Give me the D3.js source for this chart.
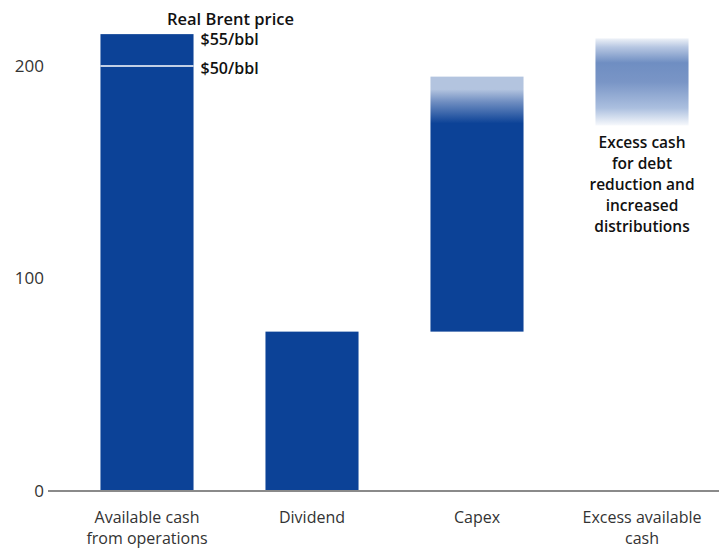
<!DOCTYPE html>
<html>
<head>
<meta charset="utf-8">
<script src="https://cdn.jsdelivr.net/npm/d3@7"></script>
<style>
  body { margin: 0; background: #fff; }
  text { font-family: "Open Sans", sans-serif; }
</style>
</head>
<body>
<div id="chart"></div>
<script>
// chart data
const categories = [["Available cash", "from operations"], ["Dividend"], ["Capex"], ["Excess available", "cash"]]
const barLow = [0, 0, 75, 172]
const barHigh = [215, 75, 195, 213]
const yTicks = [0, 100, 200]
const brentLevels = [215, 200]
const brentLabels = ["$55/bbl", "$50/bbl"]
const capexSolidTop = 173
const excessNote = ["Excess cash", "for debt", "reduction and", "increased", "distributions"]

const width = 719, height = 549
const blue = "#0c4297"

const svg = d3.select("#chart").append("svg")
    .attr("width", width)
    .attr("height", height)

const x = d3.scaleBand()
    .domain(d3.range(categories.length))
    .range([64.5, 724.5])
    .paddingInner(0.436)
    .paddingOuter(0.218)

const y = d3.scaleLinear()
    .domain([0, 200])
    .range([491, 66])

// gradients
const defs = svg.append("defs")
const capexTop = y(barHigh[2]), capexBottom = y(barLow[2])
const capexGrad = defs.append("linearGradient")
    .attr("id", "capexGrad")
    .attr("gradientUnits", "userSpaceOnUse")
    .attr("x1", 0).attr("x2", 0)
    .attr("y1", capexTop).attr("y2", capexBottom)
const solidOffset = (y(capexSolidTop) - capexTop) / (capexBottom - capexTop)
capexGrad.selectAll("stop")
    .data([[0, "#b3c4df"], [0.05, "#b3c4df"], [solidOffset * 0.55, "#6d8cc0"], [solidOffset, blue], [1, blue]])
    .enter().append("stop")
    .attr("offset", d => d[0])
    .attr("stop-color", d => d[1])

const excessGrad = defs.append("linearGradient")
    .attr("id", "excessGrad")
    .attr("x1", 0).attr("x2", 0).attr("y1", 0).attr("y2", 1)
excessGrad.selectAll("stop")
    .data([[0, "#eef2f8"], [0.1, "#b7c7e2"], [0.28, "#6f8ec2"], [0.5, "#7995c6"], [0.8, "#abbfdf"], [1, "#f7f9fc"]])
    .enter().append("stop")
    .attr("offset", d => d[0])
    .attr("stop-color", d => d[1])

const fills = [blue, blue, "url(#capexGrad)", "url(#excessGrad)"]

// bars
svg.append("g")
    .selectAll("rect")
    .data(categories)
    .enter().append("rect")
    .attr("x", (d, i) => x(i))
    .attr("y", (d, i) => y(barHigh[i]))
    .attr("width", x.bandwidth())
    .attr("height", (d, i) => y(barLow[i]) - y(barHigh[i]))
    .attr("fill", (d, i) => fills[i])

// $50 marker line inside first bar
svg.append("line")
    .attr("x1", x(0))
    .attr("x2", x(0) + x.bandwidth())
    .attr("y1", y(brentLevels[1]))
    .attr("y2", y(brentLevels[1]))
    .attr("stroke", "#fff")
    .attr("stroke-width", 1.5)

// baseline
svg.append("line")
    .attr("x1", 48)
    .attr("x2", width)
    .attr("y1", y(0))
    .attr("y2", y(0))
    .attr("stroke", "#8a8a8a")
    .attr("stroke-width", 2)

// y tick labels
const yAxis = svg.append("g")
    .attr("transform", "translate(44,0)")
    .call(d3.axisLeft(y).tickValues(yTicks).tickSize(0).tickPadding(0))
yAxis.select(".domain").remove()
yAxis.selectAll("text")
    .attr("font-family", "Open Sans, sans-serif")
    .attr("font-size", 17)
    .attr("fill", "#333")

// x labels
const xl = svg.append("g")
categories.forEach((lines, i) => {
    const t = xl.append("text")
        .attr("x", x(i) + x.bandwidth() / 2)
        .attr("y", 523)
        .attr("text-anchor", "middle")
        .attr("font-size", 16)
        .attr("fill", "#333")
    lines.forEach((l, j) => {
        t.append("tspan")
            .attr("x", x(i) + x.bandwidth() / 2)
            .attr("dy", j === 0 ? 0 : 21)
            .text(l)
    })
})

// Brent annotations
svg.append("text")
    .attr("x", 167)
    .attr("y", 25)
    .attr("font-size", 16.5)
    .attr("font-weight", 600)
    .attr("fill", "#111")
    .text("Real Brent price")

brentLevels.forEach((v, i) => {
    svg.append("text")
        .attr("x", x(0) + x.bandwidth() + 7)
        .attr("y", y(v) + (i === 0 ? 11 : 8))
        .attr("font-size", 16)
        .attr("font-weight", 600)
        .attr("fill", "#111")
        .text(brentLabels[i])
})

// excess cash note
const note = svg.append("text")
    .attr("x", x(3) + x.bandwidth() / 2)
    .attr("y", 148)
    .attr("text-anchor", "middle")
    .attr("font-size", 15.5)
    .attr("font-weight", 600)
    .attr("fill", "#111")
excessNote.forEach((l, j) => {
    note.append("tspan")
        .attr("x", x(3) + x.bandwidth() / 2)
        .attr("dy", j === 0 ? 0 : 21)
        .text(l)
})
</script>
</body>
</html>
